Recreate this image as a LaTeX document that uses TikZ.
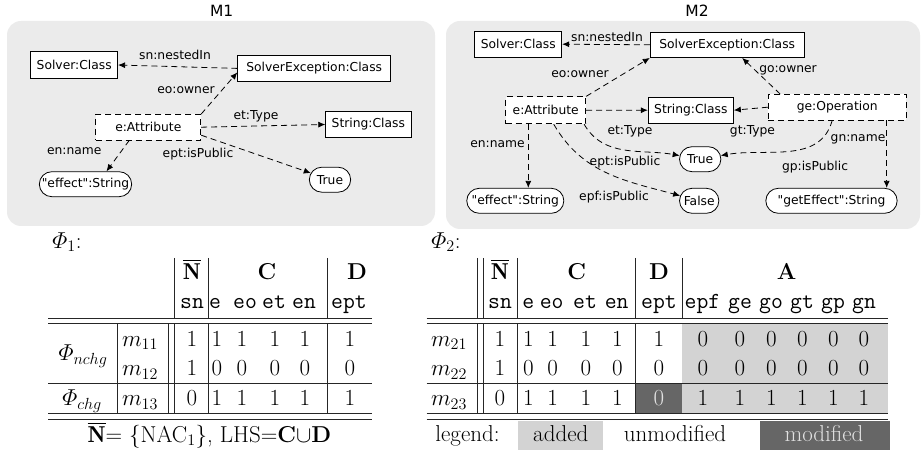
\RequirePackage{fix-cm}
\documentclass[tikz,border=0pt]{standalone}
\usepackage{amsmath}
\usepackage{fontspec}
\usetikzlibrary{positioning,arrows.meta,shapes.misc}
\newfontfamily\dejavu{DejaVu Sans}
\newcommand\diafont{\dejavu\fontsize{12.3}{14}\selectfont}
\newcommand\titlefont{\dejavu\fontsize{15.5}{18}\selectfont}
\newcommand\tabfont{\fontsize{23}{27}\selectfont}
\definecolor{panelgray}{RGB}{235,235,235}
\definecolor{addedgray}{RGB}{211,211,211}
\definecolor{modgray}{RGB}{102,102,102}
\definecolor{modtext}{RGB}{225,225,225}

\begin{document}
\begin{tikzpicture}[x=1pt,y=1pt,>={Latex[length=7pt,width=6pt]},
    class node/.style={draw,fill=white,font=\diafont,minimum height=25.5pt,inner xsep=6pt,line width=0.8pt},
    attr node/.style={class node,dash pattern=on 6pt off 4pt},
    value node/.style={rounded rectangle,draw,fill=white,font=\diafont,minimum height=25pt,line width=0.8pt},
    rel/.style={->,line width=0.8pt,dash pattern=on 6pt off 4pt},
    rel label/.style={font=\diafont,inner sep=0pt},
    cell/.style={anchor=base,font=\tabfont,inner sep=0pt},
    tt cell/.style={cell,font=\tabfont\ttfamily},
    rule/.style={line width=0.8pt,black!85}]
    \useasboundingbox (0,0) rectangle (922,-454);

    % model panels
    \fill[panelgray,rounded corners=14pt] (7,-21) rectangle (435,-226);
    \fill[panelgray,rounded corners=14pt] (446,-21) rectangle (920,-229);
    \node[font=\titlefont] (m1) at (221.7,-11) {M1};
    \node[font=\titlefont] (m2) at (697,-11) {M2};

    % nodes of M1
    \node[class node,minimum width=86pt,minimum height=27.5pt] (solver1) at (74.2,-65) {Solver:Class};
    \node[class node,minimum width=153pt] (exc1) at (314.2,-68.4) {SolverException:Class};
    \node[attr node,minimum width=105pt] (attr1) at (148.3,-127.2) {e:Attribute};
    \node[class node,minimum width=85pt] (str1) at (368.3,-124.5) {String:Class};
    \node[value node,minimum width=99pt] (eff1) at (85.5,-184.2) {"effect":String};
    \node[value node,minimum width=48pt] (true1) at (330,-179.7) {True};
    % edges of M1
    \path[rel]
      (exc1.west) edge (solver1.east)
      (attr1.north east) edge (exc1.183)
      (attr1.east) edge (str1.west)
      ([xshift=-19pt]attr1.south) edge ([xshift=21pt]eff1.north)
      ([yshift=-8pt]attr1.east) edge (true1);
    \node[rel label] (sn1) at (175,-55) {sn:nestedIn};
    \node[rel label] (eo1) at (186,-90) {eo:owner};
    \node[rel label] (et1) at (256,-116.7) {et:Type};
    \node[rel label] (en1) at (74.3,-150.7) {en:name};
    \node[rel label] (ept1) at (198,-154) {ept:isPublic};

    % nodes of M2
    \node[class node,minimum width=85pt] (solver2) at (518.3,-44.2) {Solver:Class};
    \node[class node,minimum width=154pt] (exc2) at (727.2,-44.8) {SolverException:Class};
    \node[attr node,minimum width=80pt,minimum height=27pt] (attr2) at (545.7,-110.3) {e:Attribute};
    \node[class node,minimum width=84pt] (str2) at (690.8,-110.2) {String:Class};
    \node[attr node,minimum width=138pt] (oper2) at (837.2,-107.2) {ge:Operation};
    \node[value node,minimum width=48pt] (true2) at (700.2,-159.2) {True};
    \node[value node,minimum width=46pt] (false2) at (699.2,-200.8) {False};
    \node[value node,minimum width=97pt] (eff2) at (515.3,-200.8) {"effect":String};
    \node[value node,minimum width=138pt] (name2) at (831.5,-200.8) {"getEffect":String};
    % edges of M2
    \path[rel]
      (exc2.west) edge (solver2.east)
      (attr2.north east) edge (exc2.south west)
      ([xshift=-57pt]oper2.north) edge ([xshift=15pt]exc2.south)
      (attr2.east) edge (str2.west)
      (oper2.west) edge (str2.east)
      ([xshift=-2pt]attr2.south east) edge[out=-60,in=170] (true2)
      ([xshift=-5pt]oper2.south) edge[out=-105,in=10] (true2)
      (attr2) edge[out=-60,in=165] (false2)
      ([xshift=-17.4pt]attr2.south) edge ([xshift=13pt]eff2.north)
      ([xshift=49.5pt]oper2.south) edge ([xshift=55.2pt]name2.north);
    \node[rel label] (sn2) at (607,-36.7) {sn:nestedIn};
    \node[rel label] (eo2) at (580,-74) {eo:owner};
    \node[rel label] (go2) at (788,-70) {go:owner};
    \node[rel label] (et2) at (630,-131) {et:Type};
    \node[rel label] (gt2) at (752.5,-131) {gt:Type};
    \node[rel label] (en2) at (497.5,-144) {en:name};
    \node[rel label] (gn2) at (858,-139.3) {gn:name};
    \node[rel label] (ept2) at (625,-161.7) {ept:isPublic};
    \node[rel label] (gp2) at (815,-167.3) {gp:isPublic};
    \node[rel label] (epf2) at (614,-196.7) {epf:isPublic};

    % table Phi_1
    \node[cell] (phi1) at (67,-248.5) {$\varPhi_1$:};
    \node[cell] (t1n) at (192,-280) {$\overline{\mathbf{N}}$};
    \node[cell] (t1c) at (267,-280) {\textbf{C}};
    \node[cell] (t1d) at (357,-280) {\textbf{D}};
    \foreach \x/\t in {192/sn,215/e,245/eo,274/et,304/en,349/ept}
      \node[tt cell] (t1\t) at (\x,-309) {\t};
    \node[cell] (t1nchg) at (83,-361) {$\varPhi_{nchg}$};
    \node[cell] (t1chg) at (82,-406) {$\varPhi_{chg}$};
    \node[cell] (t1m1) at (140,-346.5) {$m_{11}$};
    \node[cell] (t1m2) at (140,-376) {$m_{12}$};
    \node[cell] (t1m3) at (140,-406) {$m_{13}$};
    \foreach \x/\v [count=\k] in {192/1,217/1,242/1,275/1,305/1,350/1}
      \node[cell] (t1a\k) at (\x,-346.5) {\v};
    \foreach \x/\v [count=\k] in {192/1,217/0,242/0,275/0,305/0,350/0}
      \node[cell] (t1b\k) at (\x,-376) {\v};
    \foreach \x/\v [count=\k] in {192/0,217/1,242/1,275/1,305/1,350/1}
      \node[cell] (t1c\k) at (\x,-406) {\v};
    \foreach \y in {318,323.5,383.5,413.5,419}
      \draw[rule] (48,-\y) -- (372,-\y);
    \foreach \x in {174,208,327}
      \draw[rule] (\x,-258) -- (\x,-318) (\x,-323.5) -- (\x,-413.5);
    \foreach \x in {117,168}
      \draw[rule] (\x,-323.5) -- (\x,-413.5);
    \node[cell] (t1foot) at (209.5,-442.5) {$\overline{\mathbf{N}}$= \{NAC$_1$\}, LHS=\textbf{C}$\cup$\textbf{D}};

    % table Phi_2
    \node[cell] (phi2) at (446,-248.5) {$\varPhi_2$:};
    \fill[addedgray] (682.3,-323.5) rectangle (888,-413.5);
    \fill[modgray] (635.7,-383.5) rectangle (682.3,-413.5);
    \node[cell] (t2n) at (500,-280) {$\overline{\mathbf{N}}$};
    \node[cell] (t2c) at (576.7,-280) {\textbf{C}};
    \node[cell] (t2d) at (659,-280) {\textbf{D}};
    \node[cell] (t2a) at (786.7,-280) {\textbf{A}};
    \foreach \x/\t in {500/sn,528.3/e,551.7/eo,585/et,616.7/en,659/ept,702.5/epf,740/ge,771/go,802/gt,833/gp,864/gn}
      \node[tt cell] (t2\t) at (\x,-309) {\t};
    \node[cell] (t2m1) at (449,-346.5) {$m_{21}$};
    \node[cell] (t2m2) at (449,-376) {$m_{22}$};
    \node[cell] (t2m3) at (449,-406) {$m_{23}$};
    \foreach \x/\v [count=\k] in {500/1,528.3/1,552.7/1,586/1,617.3/1,659/1,703/0,740/0,771.5/0,802.5/0,833.5/0,864/0}
      \node[cell] (t2a\k) at (\x,-346.5) {\v};
    \foreach \x/\v [count=\k] in {500/1,528.3/0,552.7/0,586/0,617.3/0,659/0,703/0,740/0,771.5/0,802.5/0,833.5/0,864/0}
      \node[cell] (t2b\k) at (\x,-376) {\v};
    \foreach \x/\v [count=\k] in {500/0,528.3/1,552.7/1,586/1,617.3/1,703/1,740/1,771.5/1,802.5/1,833.5/1,864/1}
      \node[cell] (t2c\k) at (\x,-406) {\v};
    \node[cell,text=modtext] (t2mod) at (659,-406) {0};
    \foreach \y in {318,323.5,383.5,413.5,419}
      \draw[rule] (426.7,-\y) -- (888,-\y);
    \foreach \x in {477.7,483.3,517.3,635.7}
      \draw[rule] (\x,-258) -- (\x,-318) (\x,-323.5) -- (\x,-413.5);
    \draw[rule] (682.3,-258) -- (682.3,-318);

    % legend
    \fill[addedgray] (518.3,-421) rectangle (603.3,-450);
    \fill[modgray] (760,-421) rectangle (890,-450);
    \node[cell] (lgd) at (467.5,-442) {legend:};
    \node[cell] (lgdadd) at (560.8,-442) {added};
    \node[cell] (lgdunm) at (675,-442) {unmodified};
    \node[cell,text=modtext] (lgdmod) at (824,-442) {modified};
\end{tikzpicture}
\end{document}
